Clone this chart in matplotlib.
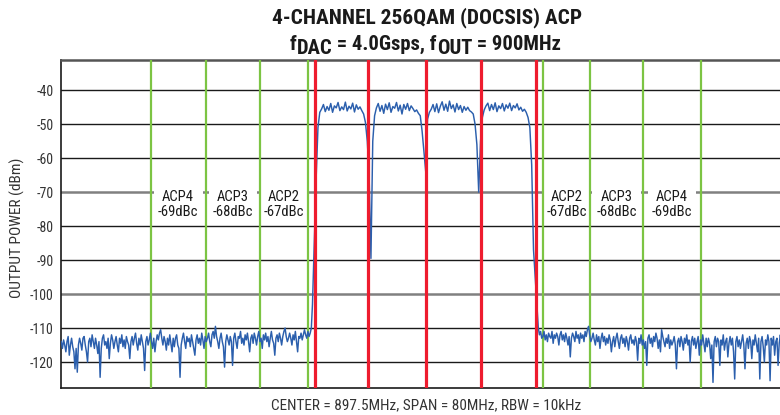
import numpy as np
import matplotlib
matplotlib.use("Agg")
import matplotlib.pyplot as plt
from matplotlib import font_manager as fm

# ---------------- data ----------------
left_start = 857.5
noise_step = 0.125
noise_left = [
    -114, -116, -113.5, -115, -117, -114, -112.5, -118, -115, -113,
    -115.5, -117, -122, -116, -123, -115, -113, -114.5, -116.5, -113,
    -112.5, -115, -117, -120, -114, -113, -115.5, -112, -114, -116,
    -113, -115, -117.5, -114, -124.5, -116, -113, -112, -115, -114,
    -116, -113, -119, -114.5, -112, -113.5, -116, -114, -112.5, -115,
    -117, -113, -114.5, -112, -115.5, -113.5, -116, -112.5, -114, -115,
    -119, -114, -112.5, -115, -113, -111.5, -114.5, -116.5, -113, -115,
    -112, -114, -116, -122.5, -114, -112.5, -115, -113.5, -111.5, -114,
    -116, -113, -117, -114, -112, -113.5, -111.5, -110.5, -113, -115,
    -112.5, -114, -116.5, -113, -115, -112, -114.5, -117, -113, -115.5,
    -113, -112, -115, -116, -124.5, -115, -113, -111.5, -114, -116,
    -112.5, -114, -113, -115.5, -112, -114, -116, -118, -113.5, -112,
    -114.5, -113, -115, -111.5, -113.5, -116, -112.5, -114, -113, -111.5,
    -114, -115.5, -112, -111, -113, -109.5, -112.5, -114, -116, -113,
    -111.5, -114, -115.5, -121.5, -114, -112, -113.5, -115, -112.5, -114,
    -121, -113, -111.5, -114, -116, -112.5, -113, -111, -114.5, -113,
    -115, -112, -113.5, -111.5, -114, -117, -113, -112, -114.5, -111.5,
    -113, -115, -112.5, -111, -114, -113, -116, -112, -113.5, -111.5,
    -114, -112.5, -115.5, -113, -111, -113.5, -114.5, -118, -113, -112,
    -114, -111.5, -113, -115, -112.5, -111, -110, -112.5, -114, -113,
    -111.5, -113, -115, -112, -113.5, -111, -114, -117, -112.5, -113,
    -111.5, -113.5, -112, -110.5, -112, -113, -111, -112.5, -111.5, -110,
    -103,
]
chan_start = 885.4
chan_step = 0.2
chan_trace = [
    -66, -51, -46.5,
    -45.5, -44.2, -46.3, -44.8, -45.9, -43.9, -46.5, -44.6, -45.2, -43.6,
    -46.0, -44.9, -45.7, -43.5, -46.1, -44.7, -45.5, -43.8, -46.4, -44.3,
    -45.6, -44.9, -46.0,
    -47, -49.5, -55, -65, -89.5, -55, -47.5,
    -45.2, -43.9, -46.2, -44.5, -46.8, -44.1, -45.7, -43.7, -46.5, -44.8,
    -45.3, -43.6, -46.1, -44.4, -47.0, -44.2, -45.6, -43.9, -46.0, -44.6,
    -45.4, -46.3, -45.8, -46.8,
    -47.5, -52, -58, -64, -48.5, -46.5,
    -45.6, -44.2, -46.3, -44.0, -46.6, -44.7, -43.4, -45.9, -44.1, -46.2,
    -43.2, -45.4, -44.3, -46.4, -43.9, -45.7, -44.5, -46.5, -44.8, -45.9,
    -45.0, -46.0, -46.4,
    -47, -50, -56, -70, -55, -48,
    -45.8, -44.6, -43.8, -46.0, -44.2, -45.7, -43.7, -46.3, -44.6, -45.4,
    -43.9, -46.1, -44.3, -45.3, -43.8, -46.0, -44.5, -45.2, -44.0, -45.8,
    -45.0, -46.2, -45.6,
    -46.5, -48, -51, -62, -87, -96,
]
right_start = 909.6
noise_right = [
    -104.5, -110, -112, -111, -113, -112.5, -111, -113.5, -112, -114,
    -111.5, -112.5, -113, -111, -114.5, -112, -113, -111.5, -112.5, -115,
    -112, -111, -113.5, -112, -114, -111.5, -113, -115, -112.5, -118.5,
    -113, -111.5, -112.5, -114, -111, -113, -112, -114.5, -111.5, -113,
    -112, -114, -111, -112.5, -110.5, -109.5, -112, -114, -113, -111.5,
    -113.5, -115, -112, -114, -112.5, -116, -113, -111.5, -114, -112.5,
    -115, -113, -114.5, -112, -113.5, -117, -114, -112.5, -115.5, -113,
    -111.5, -114, -116, -113, -112, -114.5, -113, -115.5, -112.5, -114,
    -116.5, -113, -112, -114.5, -113.5, -115, -112.5, -114, -119.5, -113,
    -114.5, -112, -115, -113.5, -116, -114, -121, -113, -112, -114.5,
    -113, -115.5, -112.5, -114, -111.5, -113, -116, -113.5, -117, -110.5,
    -112.5, -114, -115.5, -113, -114.5, -112, -116, -113.5, -115, -114,
    -112.5, -115, -122, -114, -113, -115.5, -112.5, -114, -116.5, -113,
    -114.5, -112, -115, -113.5, -120, -114, -112.5, -115, -113, -116,
    -114, -112.5, -118, -113.5, -115, -112, -114.5, -117, -113, -115.5,
    -113, -114.5, -119, -115, -126, -114, -112.5, -115.5, -113, -114,
    -121, -113.5, -115, -112, -116.5, -114, -113, -118.5, -114.5, -112.5,
    -115, -113, -117, -125, -114, -112.5, -115.5, -113.5, -116, -114,
    -112, -115, -122, -114.5, -113, -116, -112.5, -114, -119, -113.5,
    -115, -112, -114.5, -117, -113, -125, -114, -112.5, -115.5, -120,
    -113.5, -115, -112, -114, -125.5, -113, -115, -112.5, -118, -114,
    -113, -121, -114.5, -112, -115, -113.5, -116.5, -114, -112.5, -115,
    -113, -116, -114, -112.5, -115,
]

red_lines = [885.3, 891.1, 897.4, 903.4, 909.45]
green_lines = [867.3, 873.3, 879.3, 884.5, 910.2, 915.4, 921.2, 927.5]
acp_names = ["ACP4", "ACP3", "ACP2", "ACP2", "ACP3", "ACP4"]
acp_values = ["-69dBc", "-68dBc", "-67dBc", "-67dBc", "-68dBc", "-69dBc"]
acp_bounds = [(0, 1), (1, 2), (2, 3), (4, 5), (5, 6), (6, 7)]
y_ticks = [-40, -50, -60, -70, -80, -90, -100, -110, -120]
gray_levels = [-70, -100]
x_min, x_max = 857.5, 937.5
y_min, y_max = -127.74, -31.1

title_line1 = "4-CHANNEL 256QAM (DOCSIS) ACP"
title_line2 = [("f", False), ("DAC", True), (" = 4.0Gsps, f", False), ("OUT", True), (" = 900MHz", False)]
x_label = "CENTER = 897.5MHz, SPAN = 80MHz, RBW = 10kHz"
y_label = "OUTPUT POWER (dBm)"

# ---------------- fonts ----------------
names = {f.name for f in fm.fontManager.ttflist}
cond = "DejaVu Sans"
for cand in ["Liberation Sans Narrow", "Roboto Condensed", "Open Sans Condensed",
             "Noto Sans Condensed", "DejaVu Sans Condensed"]:
    if cand in names:
        cond = cand
        break
plt.rcParams["font.family"] = [cond, "DejaVu Sans"]

W, H = 780, 415
fig = plt.figure(figsize=(W / 100, H / 100), dpi=100)
ax = fig.add_axes([61.3 / W, 1 - 388.3 / H, (792 - 61.3) / W, (388.3 - 60) / H])

freq = np.concatenate([
    left_start + noise_step * np.arange(len(noise_left)),
    chan_start + chan_step * np.arange(len(chan_trace)),
    right_start + noise_step * np.arange(len(noise_right)),
])
power = np.concatenate([noise_left, chan_trace, noise_right])

for yv in y_ticks:
    if yv in gray_levels:
        ax.axhline(yv, color="#808080", lw=1.8, zorder=1)
    else:
        ax.axhline(yv, color="#1a1a1a", lw=1.0, zorder=1)

for g in green_lines:
    ax.axvline(g, color="#7cc443", lw=1.6, zorder=3)

ax.plot(freq, power, color="#2b5fad", lw=1.05, zorder=4)

for r in red_lines:
    ax.axvline(r, color="#ee1c2e", lw=2.3, zorder=5)

acp_texts = []
for name, val, (a, b) in zip(acp_names, acp_values, acp_bounds):
    xc = (green_lines[a] + green_lines[b]) / 2
    t = ax.text(xc, -73.6, name + "\n" + val, ha="center", va="center",
                fontsize=11, color="#1a1a1a", linespacing=1.12, zorder=2.5,
                bbox=dict(boxstyle="square,pad=0.28", fc="white", ec="none"))
    acp_texts.append(t)

ax.set_xlim(x_min, x_max)
ax.set_ylim(y_min, y_max)
ax.set_yticks(y_ticks)
ax.set_yticklabels([str(v) for v in y_ticks])
ax.set_xticks([])
ax.tick_params(axis="y", length=0, pad=5.5, labelsize=10, labelcolor="#333333")
ax.spines["right"].set_visible(False)
ax.spines["top"].set_color("#555555")
ax.spines["top"].set_linewidth(1.8)
for s in ("left", "bottom"):
    ax.spines[s].set_color("#1a1a1a")
    ax.spines[s].set_linewidth(1.2)

yl = fig.text(17 / W, 1 - 228 / H, y_label, rotation=90,
              ha="center", va="center", fontsize=10.5, color="#333333")
xl = fig.text(426 / W, 1 - 405 / H, x_label,
              ha="center", va="center", fontsize=10.5, color="#333333")
t1 = fig.text(427 / W, 1 - 17.5 / H, title_line1,
              ha="center", va="center", fontsize=14, fontweight="bold", color="#1a1a1a")

fig.canvas.draw()
rend = fig.canvas.get_renderer()


def fit(t, target, dim="w"):
    bb = t.get_window_extent(renderer=rend)
    cur = bb.width if dim == "w" else bb.height
    t.set_fontsize(t.get_fontsize() * target / cur)


fit(t1, 310)
fit(xl, 311)
fit(yl, 140, "h")
probe = fig.text(0, 0, "-69dBc", fontsize=11)
bbp = probe.get_window_extent(renderer=rend)
acp_fs = 11 * 40 / bbp.width
probe.remove()
for t in acp_texts:
    t.set_fontsize(acp_fs)

# second title line with full-size lowered subscripts
fs2 = 14
pieces = []
for txt, sub in title_line2:
    p = fig.text(0, 0, txt, ha="left", va="baseline", fontsize=fs2,
                 fontweight="bold", color="#1a1a1a")
    pieces.append((p, sub))
fig.canvas.draw()
total = sum(p.get_window_extent(renderer=rend).width for p, _ in pieces)
scale = 271 / total
for p, _ in pieces:
    p.set_fontsize(fs2 * scale)
fig.canvas.draw()
x0 = 290.0
base = 50.0
for p, sub in pieces:
    w = p.get_window_extent(renderer=rend).width
    p.set_position((x0 / W, 1 - (base + (3.5 if sub else 0)) / H))
    x0 += w

fig.savefig("out.png", dpi=100)
